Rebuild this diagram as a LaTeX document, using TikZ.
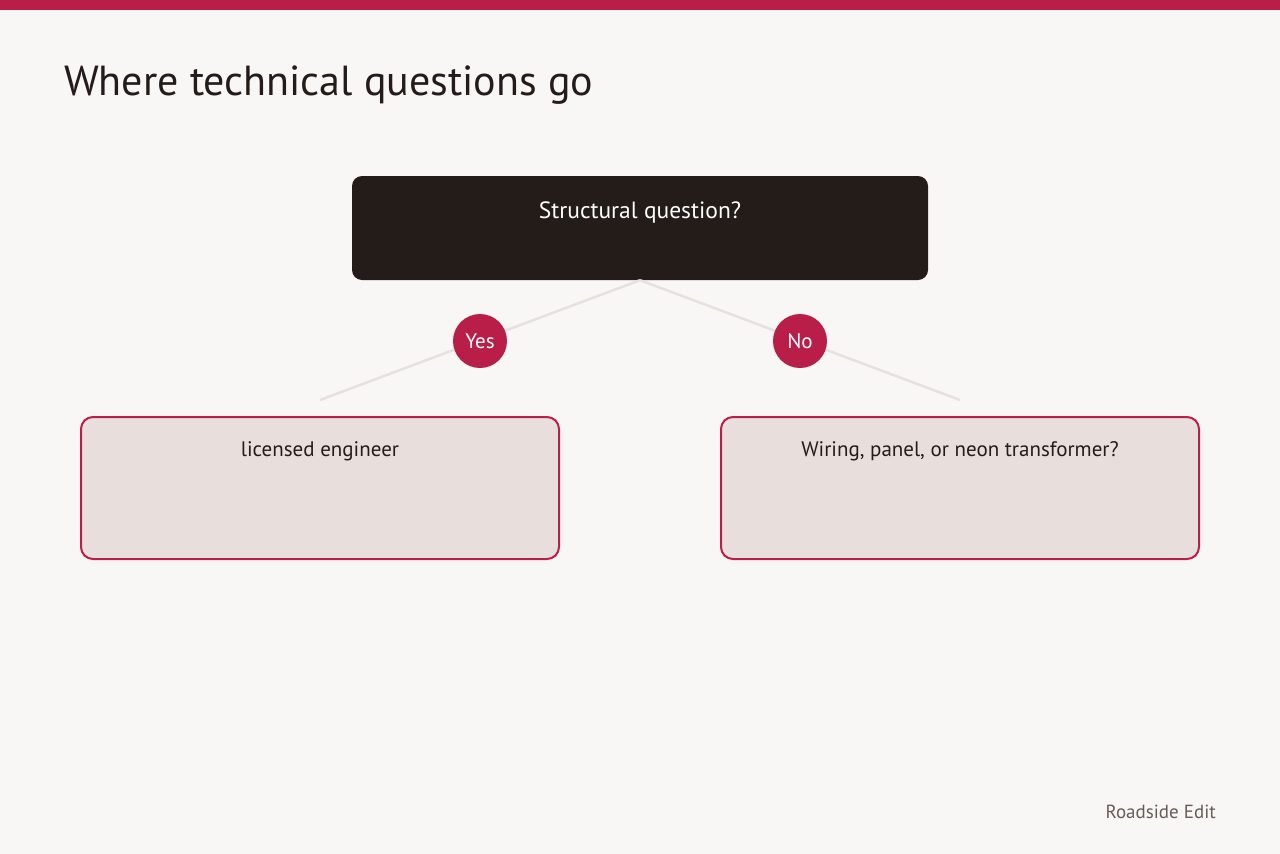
\documentclass[tikz,border=0pt]{standalone}
\usepackage{fontspec}
\setmainfont{PT Sans}
\definecolor{bg}{HTML}{F9F7F5}
\definecolor{crim}{HTML}{B81E48}
\definecolor{ink}{HTML}{241C18}
\definecolor{pale}{HTML}{E8DFDD}
\definecolor{edge}{HTML}{E6E1DD}
\definecolor{foot}{HTML}{6B5B55}
\tikzset{
  darkbox/.style={fill=ink, draw=none, rounded corners=10pt, minimum width=576pt, minimum height=104pt, inner sep=0pt},
  palebox/.style={fill=pale, draw=crim, line width=2pt, rounded corners=12pt, minimum width=478pt, minimum height=142pt, inner sep=0pt},
  badge/.style={circle, fill=crim, minimum size=54pt, inner sep=0pt, text=white, font=\fontsize{21pt}{24pt}\selectfont},
  conn/.style={draw=edge, line width=2.5pt},
  boxtext/.style={font=\fontsize{21pt}{25pt}\selectfont, anchor=base, inner sep=0pt}
}
\begin{document}
\begin{tikzpicture}[x=1pt,y=-1pt]
\fill[bg] (0,0) rectangle (1280,854);
\useasboundingbox (0,0) rectangle (1280,854);
\fill[crim] (0,0) rectangle (1280,10);
\node[anchor=base west, inner sep=0pt, text=ink, font=\fontsize{42pt}{50pt}\selectfont] (title) at (64,95) {Where technical questions go};
% top box
\node[darkbox] (q) at (640,228) {};
\node[boxtext, text=white, font=\fontsize{23.5pt}{27pt}\selectfont] (qt) at (640,218) {Structural question?};
% end coordinates
\coordinate (lend) at (320,400);
\coordinate (rend) at (960,400);
\draw[conn] (q.south) -- (lend);
\draw[conn] (q.south) -- (rend);
\node[badge] (yes) at (480,341) {Yes};
\node[badge] (no) at (800,341) {No};
% lower boxes
\node[palebox] (l) at (320,488) {};
\node[palebox] (r) at (960,488) {};
\node[boxtext, text=ink] (lt) at (320,456) {licensed engineer};
\node[boxtext, text=ink] (rt) at (960,456) {Wiring, panel, or neon transformer?};
\node[anchor=base east, inner sep=0pt, text=foot, font=\fontsize{19pt}{22pt}\selectfont] (ft) at (1216,818) {Roadside Edit};
\end{tikzpicture}
\end{document}
